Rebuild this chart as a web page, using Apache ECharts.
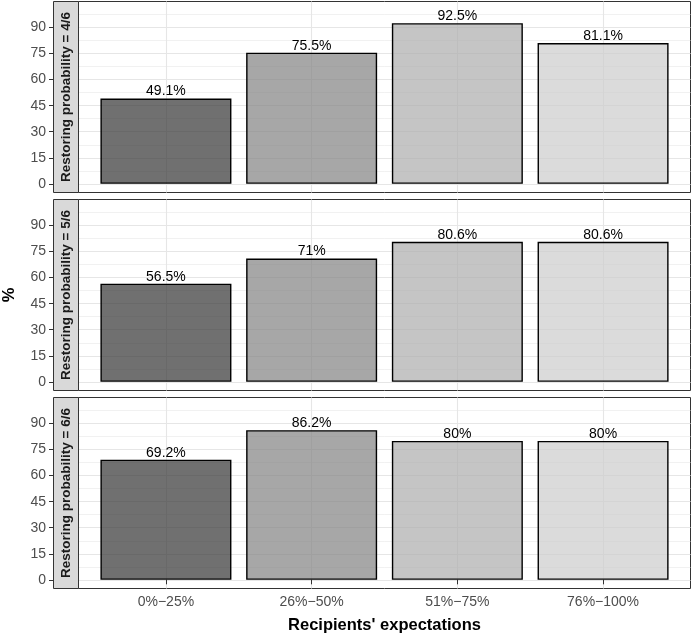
<!DOCTYPE html>
<html>
<head>
<meta charset="utf-8">
<script src="https://cdn.jsdelivr.net/npm/echarts@6/dist/echarts.min.js"></script>
<style>
html,body{margin:0;padding:0;background:#fff;}
#chart{width:693px;height:637px;}
</style>
</head>
<body>
<div id="chart"></div>
<script>
// ---- data ----
const categories = ['0%\u221225%', '26%\u221250%', '51%\u221275%', '76%\u2212100%'];
const panelLabels = ['Restoring probability = 4/6', 'Restoring probability = 5/6', 'Restoring probability = 6/6'];
const values46 = [49.1, 75.5, 92.5, 81.1];
const values56 = [56.5, 71, 80.6, 80.6];
const values66 = [69.2, 86.2, 80, 80];
const yTicks = [0, 15, 30, 45, 60, 75, 90];
const yMinorTicks = [7.5, 22.5, 37.5, 52.5, 67.5, 82.5, 97.5];
const xAxisTitle = "Recipients' expectations";
const yAxisTitle = '%';

// ---- styling / layout ----
const panelValues = [values46, values56, values66];
const fills = ['rgba(51,51,51,0.7)', 'rgba(129,129,129,0.7)', 'rgba(172,172,172,0.7)', 'rgba(204,204,204,0.7)'];
const panelLeft = 78.5, panelWidth = 612, panelHeight = 191;
const panelTops = [1.5, 199.5, 397.5];
const stripW = 25;
const xPos = categories.map((c, i) => i + 1);

const chart = echarts.init(document.getElementById('chart'), null, {renderer: 'canvas'});

const grids = [], xAxes = [], yAxes = [], series = [], graphics = [];
panelValues.forEach((vals, p) => {
  const last = p === panelValues.length - 1;
  grids.push({left: panelLeft, top: panelTops[p], width: panelWidth, height: panelHeight,
    show: true, borderColor: '#333333', borderWidth: 1, backgroundColor: '#ffffff', containLabel: false});
  xAxes.push({type: 'value', gridIndex: p, min: 0.4, max: 4.6,
    axisLine: {show: false},
    axisTick: {show: last, length: 4.5, customValues: xPos, lineStyle: {color: '#333333', width: 1}},
    axisLabel: {show: last, customValues: xPos, margin: 7, fontSize: 14, color: '#4d4d4d',
      fontFamily: 'Liberation Sans, Arial, sans-serif', formatter: v => categories[Math.round(v) - 1] || ''},
    splitLine: {show: true, lineStyle: {color: '#e6e6e6', width: 1.1}}
  });
  yAxes.push({type: 'value', gridIndex: p, min: -5, max: 105, offset: stripW,
    axisLine: {show: false},
    axisTick: {show: true, length: 4.5, customValues: yTicks, lineStyle: {color: '#333333', width: 1}},
    axisLabel: {show: true, customValues: yTicks, margin: 7.5, fontSize: 14, color: '#4d4d4d',
      fontFamily: 'Liberation Sans, Arial, sans-serif'},
    splitLine: {show: true, lineStyle: {color: '#e6e6e6', width: 1.1}}
  });
  yAxes.push({type: 'value', gridIndex: p, min: -5, max: 105, position: 'left',
    axisLine: {show: false}, axisTick: {show: false, customValues: yMinorTicks},
    axisLabel: {show: false, customValues: yMinorTicks},
    splitLine: {show: true, lineStyle: {color: '#ebebeb', width: 0.7}}
  });
  series.push({type: 'bar', xAxisIndex: p, yAxisIndex: 2 * p, barWidth: 131,
    data: vals.map((v, j) => ({value: [xPos[j], v], itemStyle: {color: fills[j]}})),
    itemStyle: {borderColor: '#000000', borderWidth: 1.4},
    label: {show: true, position: 'top', distance: 0, fontSize: 14, color: '#000000',
      fontFamily: 'Liberation Sans, Arial, sans-serif', formatter: prm => prm.value[1] + '%'},
    silent: true, animation: false
  });
  // strip
  graphics.push({type: 'rect', shape: {x: panelLeft - stripW, y: panelTops[p], width: stripW, height: panelHeight},
    style: {fill: '#d9d9d9', stroke: '#333333', lineWidth: 1}, z: 10});
  graphics.push({type: 'text', x: panelLeft - stripW / 2, y: panelTops[p] + panelHeight / 2, rotation: Math.PI / 2,
    style: {text: panelLabels[p], fill: '#1a1a1a', font: 'bold 13.5px "Liberation Sans", Arial, sans-serif',
      textAlign: 'center', textVerticalAlign: 'middle'}, z: 11});
});
graphics.push({type: 'text', x: panelLeft + panelWidth / 2, y: 625, style: {text: xAxisTitle, fill: '#000000',
  font: 'bold 16.5px "Liberation Sans", Arial, sans-serif', textAlign: 'center', textVerticalAlign: 'middle'}, z: 11});
graphics.push({type: 'text', x: 9, y: (panelTops[0] + panelTops[2] + panelHeight) / 2, rotation: Math.PI / 2,
  style: {text: yAxisTitle, fill: '#000000', font: 'bold 16.5px "Liberation Sans", Arial, sans-serif',
    textAlign: 'center', textVerticalAlign: 'middle'}, z: 11});

chart.setOption({
  animation: false,
  backgroundColor: '#ffffff',
  grid: grids, xAxis: xAxes, yAxis: yAxes, series: series, graphic: graphics
});
</script>
</body>
</html>
